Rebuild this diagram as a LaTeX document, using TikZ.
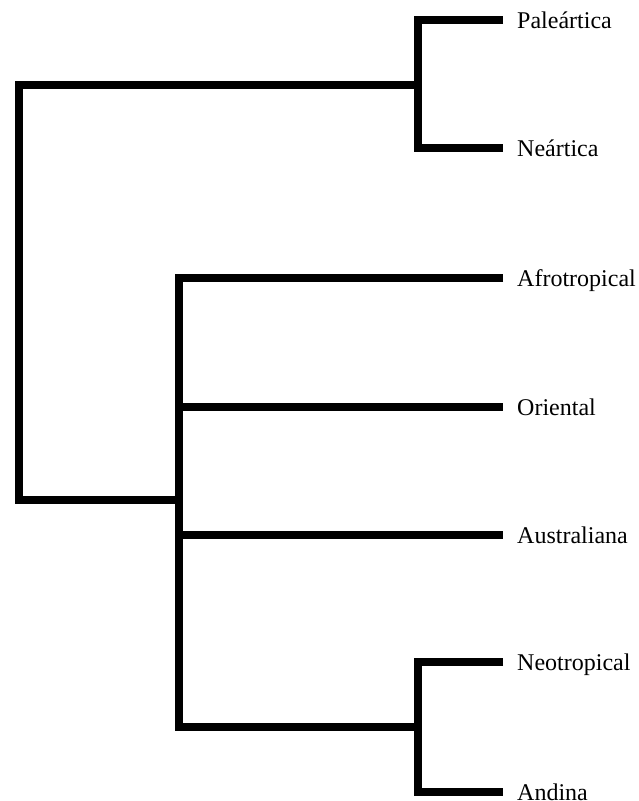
\documentclass[tikz,border=0pt]{standalone}
\usepackage{fontspec}
\setmainfont{Liberation Serif}
\begin{document}
\begin{tikzpicture}[x=1pt,y=-1pt,
  branch/.style={line width=8pt, line join=miter},
  leaf/.style={anchor=west, inner xsep=14pt, inner ysep=0pt,
    text height=16pt, text depth=0pt, font=\fontsize{24}{28}\selectfont}]
\useasboundingbox (0,0) rectangle (638,801);
% leaves
\node[leaf] (pal) at (503,20) {Paleártica};
\node[leaf] (nea) at (503,148) {Neártica};
\node[leaf] (afr) at (503,278) {Afrotropical};
\node[leaf] (ori) at (503,407) {Oriental};
\node[leaf] (aus) at (503,535) {Australiana};
\node[leaf] (neo) at (503,662) {Neotropical};
\node[leaf] (and) at (503,792) {Andina};
% internal nodes
\coordinate (n1) at (418,85);
\coordinate (root) at (19,500);
\coordinate (n2) at (179,500);
\coordinate (n3) at (418,727);
% branches
\draw[branch] (n1) -| (root) -- (n2);
\draw[branch] (pal.west) -| (n1) |- (nea.west);
\draw[branch] (afr.west) -| (n2) |- (n3);
\draw[branch] (n2 |- ori.west) -- (ori.west);
\draw[branch] (n2 |- aus.west) -- (aus.west);
\draw[branch] (neo.west) -| (n3) |- (and.west);
\end{tikzpicture}
\end{document}
